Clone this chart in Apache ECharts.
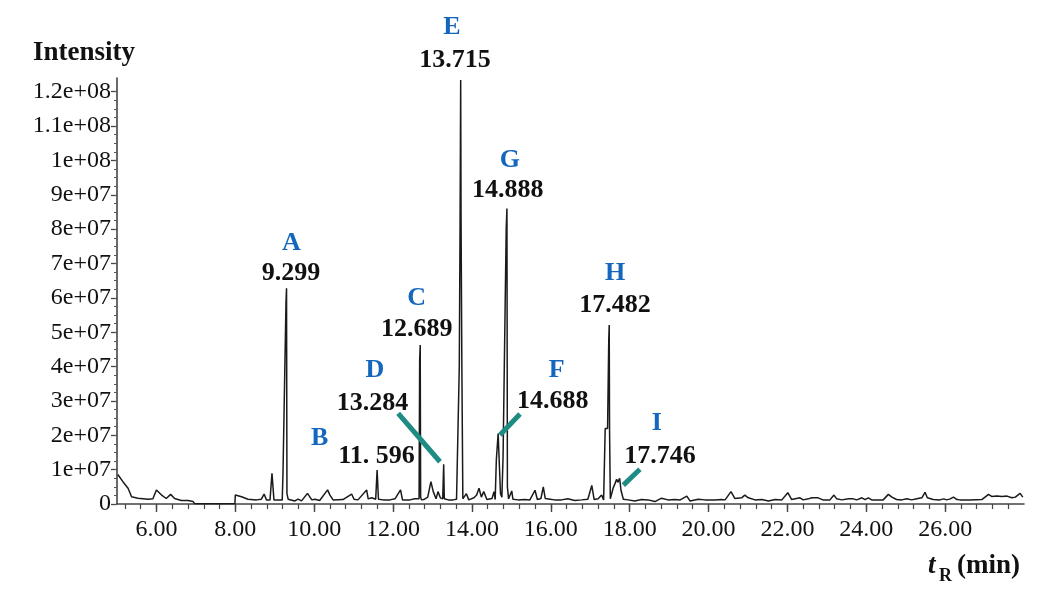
<!DOCTYPE html>
<html>
<head>
<meta charset="utf-8">
<script src="https://cdn.jsdelivr.net/npm/echarts@6/dist/echarts.min.js"></script>
<style>html,body{margin:0;padding:0;background:#fff}#c{width:1058px;height:591px}</style>
</head>
<body>
<div id="c"></div>
<script>
// retention time (min), intensity (millions of counts)
const chromatogram = [
[5.02,8.6],[5.15,6.5],[5.28,4.6],[5.37,2.1],[5.53,1.7],[5.79,1.4],[5.91,1.5],[6.00,4.1],[6.13,2.6],[6.25,1.6],
[6.36,2.8],[6.46,1.6],[6.63,1.0],[6.80,1.0],[6.93,0.7],[6.97,0.1],[7.99,0.1],[8.00,2.6],[8.16,2.1],[8.32,1.4],
[8.54,1.2],[8.66,1.4],[8.73,2.9],[8.79,1.2],[8.88,1.2],[8.93,8.9],[8.98,1.2],[9.08,1.2],[9.19,1.2],[9.21,9.3],
[9.26,9.0],[9.285,58.5],[9.299,62.8],[9.31,3.0],[9.34,1.4],[9.51,0.9],[9.59,1.4],[9.68,0.9],[9.83,3.1],[9.94,1.2],
[10.02,1.4],[10.14,1.0],[10.34,4.1],[10.40,2.6],[10.48,1.2],[10.73,1.3],[10.95,2.9],[11.01,1.4],[11.11,1.2],[11.33,4.1],
[11.37,1.5],[11.46,1.8],[11.56,1.4],[11.596,9.9],[11.63,1.4],[11.75,1.2],[11.92,1.2],[12.05,1.5],[12.19,4.1],[12.24,1.2],
[12.43,1.2],[12.55,1.5],[12.66,1.5],[12.675,41.9],[12.689,46.3],[12.70,2.0],[12.72,1.2],[12.78,1.3],[12.88,2.0],[12.96,6.5],
[13.02,3.6],[13.09,1.5],[13.14,3.6],[13.20,1.8],[13.26,1.5],[13.284,11.6],[13.30,1.5],[13.40,1.2],[13.52,1.2],[13.61,1.4],
[13.66,1.3],[13.68,40.0],[13.70,82.6],[13.715,123.4],[13.725,82.6],[13.745,40.0],[13.77,1.5],[13.86,3.0],[13.92,1.2],[14.05,1.8],
[14.12,2.6],[14.18,4.6],[14.24,2.0],[14.30,3.6],[14.38,1.3],[14.51,1.6],[14.56,3.6],[14.59,1.3],[14.62,13.0],[14.645,13.0],
[14.665,20.5],[14.70,20.5],[14.725,3.0],[14.76,2.0],[14.79,13.8],[14.84,13.8],[14.87,80.3],[14.888,86.0],[14.90,5.0],[14.93,1.5],
[14.96,1.5],[15.01,3.8],[15.04,1.4],[15.17,1.2],[15.34,1.3],[15.47,1.2],[15.60,4.0],[15.66,1.3],[15.75,1.6],[15.81,5.0],
[15.86,1.6],[15.98,1.4],[16.10,1.2],[16.27,1.2],[16.43,1.5],[16.61,1.0],[16.78,1.2],[16.94,1.4],[17.04,5.4],[17.10,1.3],
[17.20,1.5],[17.29,2.6],[17.34,1.2],[17.36,1.3],[17.38,22.0],[17.44,22.0],[17.47,47.7],[17.482,52.1],[17.49,22.0],[17.51,1.5],
[17.58,4.6],[17.63,6.0],[17.67,7.2],[17.70,6.3],[17.746,7.5],[17.78,4.0],[17.84,1.4],[17.96,1.2],[18.13,0.9],[18.30,1.3],
[18.47,1.2],[18.64,0.7],[18.81,1.7],[18.97,1.2],[19.15,1.3],[19.28,1.2],[19.45,2.3],[19.53,0.9],[19.74,1.4],[19.91,1.2],
[20.16,1.2],[20.33,1.3],[20.42,1.2],[20.57,3.6],[20.67,1.6],[20.84,1.8],[20.92,2.6],[21.01,1.8],[21.18,1.2],[21.35,1.3],
[21.52,0.9],[21.69,1.3],[21.86,1.2],[22.01,3.3],[22.11,1.3],[22.32,1.8],[22.40,1.2],[22.53,1.5],[22.62,1.8],[22.78,1.8],
[22.90,1.2],[23.08,1.2],[23.18,2.6],[23.25,1.5],[23.38,1.2],[23.55,1.5],[23.67,1.5],[23.76,1.2],[23.89,1.8],[23.97,1.3],
[24.05,1.8],[24.14,1.2],[24.27,1.2],[24.43,1.2],[24.56,2.8],[24.65,2.0],[24.77,1.3],[24.90,1.2],[25.03,1.5],[25.15,1.2],
[25.28,1.5],[25.41,1.8],[25.49,3.4],[25.55,1.8],[25.70,1.3],[25.87,1.2],[25.96,1.5],[26.04,1.2],[26.13,1.5],[26.21,2.0],
[26.30,1.3],[26.38,1.2],[26.63,1.2],[26.93,1.3],[27.10,2.8],[27.18,2.2],[27.31,2.3],[27.44,2.2],[27.57,2.3],[27.69,1.8],
[27.78,2.0],[27.90,3.1],[27.97,2.0]
];

const peakLetters = ['A','B','C','D','E','F','G','H','I'];
const peakTimeLabels = ['9.299','11. 596','12.689','13.284','13.715','14.688','14.888','17.482','17.746'];
// label anchors in data coordinates [t, intensity(M)]
const letterAnchors = [[9.42,75.9],[10.14,19.2],[12.60,60.0],[11.54,39.0],[13.49,138.8],[16.15,39.0],[14.96,100.1],[17.63,67.2],[18.69,23.6]];
const timeAnchors = [[9.41,67.2],[11.58,14.0],[12.60,50.9],[11.48,29.4],[13.57,129.2],[16.05,29.8],[14.91,91.4],[17.63,57.9],[18.77,13.8]];
// leader lines [from, to] in data coordinates
const leaderLines = [
  [[12.13,26.4],[13.19,12.3]],
  [[15.22,26.2],[14.71,20.1]],
  [[18.26,10.1],[17.84,5.5]]
];

const xMajorTicks = [6,8,10,12,14,16,18,20,22,24,26];
const xMinorTicks = [];
for (let v = 52; v <= 276; v += 4) xMinorTicks.push(v / 10);
const yMajorTicks = [0,10,20,30,40,50,60,70,80,90,100,110,120];
const yMinorTicks = [];
for (let v = 0; v <= 1200; v += 25) yMinorTicks.push(v / 10);

const serif = '"Liberation Serif", "Times New Roman", serif';
const BLUE = '#1467bd', TEAL = '#1f8c84', INK = '#111';

function sci(v) {
  if (v === 0) return '0';
  const raw = v * 1e6;
  const e = Math.floor(Math.log10(raw) + 1e-9);
  const m = parseFloat((raw / Math.pow(10, e)).toFixed(3));
  return m + 'e+' + (e < 10 ? '0' + e : e);
}

function labelSeries(anchors, names, color) {
  return {
    type: 'scatter', clip: false, symbolSize: 2, silent: true,
    itemStyle: {color: 'rgba(0,0,0,0)', opacity: 1},
    emphasis: {disabled: true},
    data: anchors.map((p, i) => ({value: p, name: names[i]})),
    label: {show: true, position: 'inside', formatter: p => p.name, opacity: 1,
      fontFamily: serif, fontWeight: 'bold', fontSize: 26, color: color}
  };
}

const chart = echarts.init(document.getElementById('c'), null, {renderer: 'canvas'});
const axisLineStyle = {color: '#444', width: 1.6};
chart.setOption({
  animation: false,
  backgroundColor: '#fff',
  grid: {left: 117, right: 34, top: 78, bottom: 87},
  xAxis: [{
    type: 'value', min: 5, max: 28,
    axisLine: {show: true, onZero: false, lineStyle: axisLineStyle},
    axisTick: {show: true, customValues: xMajorTicks, length: 8, lineStyle: {color: '#444', width: 1.4}},
    axisLabel: {customValues: xMajorTicks, margin: 14, fontFamily: serif, fontSize: 24, color: INK,
      formatter: v => v.toFixed(2)},
    splitLine: {show: false}
  }, {
    type: 'value', min: 5, max: 28, position: 'bottom',
    axisLine: {show: false},
    axisTick: {show: true, customValues: xMinorTicks, length: 5, lineStyle: {color: '#444', width: 1.2}},
    axisLabel: {show: false}, splitLine: {show: false}
  }],
  yAxis: [{
    type: 'value', min: 0, max: 124,
    axisLine: {show: true, onZero: false, lineStyle: axisLineStyle},
    axisTick: {show: true, customValues: yMajorTicks, length: 6, lineStyle: {color: '#444', width: 1.3}},
    axisLabel: {customValues: yMajorTicks, margin: 6, fontFamily: serif, fontSize: 24, color: INK, formatter: sci},
    splitLine: {show: false}
  }, {
    type: 'value', min: 0, max: 124, position: 'left',
    axisLine: {show: false},
    axisTick: {show: true, customValues: yMinorTicks, length: 3, lineStyle: {color: '#555', width: 1}},
    axisLabel: {show: false}, splitLine: {show: false}
  }],
  series: [{
    type: 'line', xAxisIndex: 0, yAxisIndex: 0,
    data: chromatogram, showSymbol: false, smooth: false,
    lineStyle: {color: '#1a1a1a', width: 1.5},
    markLine: {
      silent: true, symbol: ['none','none'], label: {show: false},
      lineStyle: {color: TEAL, width: 5, type: 'solid', cap: 'butt'},
      data: leaderLines.map(seg => [{coord: seg[0]}, {coord: seg[1]}])
    }
  },
  labelSeries(letterAnchors, peakLetters, BLUE),
  labelSeries(timeAnchors, peakTimeLabels, INK)
  ],
  graphic: [
    {type: 'text', left: 33, top: 40, style: {text: 'Intensity', font: 'bold 27px ' + serif, fill: INK}},
    {type: 'text', x: 928, y: 566, style: {text: 't', font: 'italic bold 27px ' + serif, fill: INK, verticalAlign: 'middle'}},
    {type: 'text', x: 939, y: 576, style: {text: 'R', font: 'bold 18px ' + serif, fill: INK, verticalAlign: 'middle'}},
    {type: 'text', x: 957, y: 566, style: {text: '(min)', font: 'bold 27px ' + serif, fill: INK, verticalAlign: 'middle'}}
  ]
});
</script>
</body>
</html>
